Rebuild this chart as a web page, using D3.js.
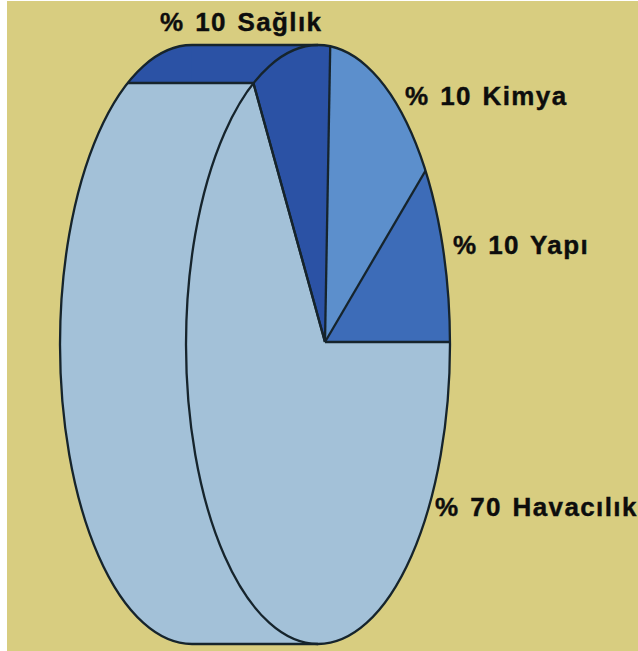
<!DOCTYPE html>
<html><head><meta charset="utf-8">
<script src="https://cdn.jsdelivr.net/npm/d3@7"></script>
<style>html,body{margin:0;padding:0;background:#fff;overflow:hidden}</style>
</head><body><svg id="c" width="638" height="651"></svg>
<script>
const categories = ["Yapı", "Kimya", "Sağlık", "Havacılık"];
const labelValues = [10, 10, 10, 70];
const drawnShares = [10.25, 14.1, 9.55, 66.05];
const colors = ["#3d6cb8", "#5c8fcc", "#2b52a5", "#a3c1d8"];
const labelX = [453, 405, 160, 435];
const labelY = [254, 105, 31, 516];

const svg = d3.select("#c");
const W = 638, H = 651;
const bg = "#d8cd80", ink = "#16242c", light = colors[3], dark = colors[2];
const front = {cx: 318, cy: 344.5, rx: 132, ry: 299.5};
const back = {cx: 192, cy: 344.5, rx: 132, ry: 299.5};
const apex = {x: 325, y: 342};
const bandY = 83;

svg.append("rect").attr("x", 7).attr("y", 1).attr("width", W - 7).attr("height", H - 1).attr("fill", bg);

const defs = svg.append("defs");
defs.append("clipPath").attr("id", "faceClip").append("ellipse")
  .attr("cx", front.cx).attr("cy", front.cy).attr("rx", front.rx).attr("ry", front.ry);
defs.append("clipPath").attr("id", "bandClip").append("rect")
  .attr("x", 0).attr("y", 0).attr("width", W).attr("height", bandY);
defs.append("clipPath").attr("id", "leftClip").append("rect")
  .attr("x", 0).attr("y", 0).attr("width", back.cx).attr("height", H);

const unitArc = d3.arc().innerRadius(0).outerRadius(1);
const leftHalf = unitArc({startAngle: Math.PI, endAngle: 2 * Math.PI});
const nss = s => s.attr("vector-effect", "non-scaling-stroke");

function bodyShape(g, fill) {
  g.append("path").attr("d", leftHalf).attr("fill", fill)
    .attr("transform", `translate(${back.cx},${back.cy}) scale(${back.rx},${back.ry})`);
  g.append("rect").attr("x", back.cx - 0.5).attr("y", back.cy - back.ry)
    .attr("width", front.cx - back.cx + 0.5).attr("height", 2 * back.ry).attr("fill", fill);
}
bodyShape(svg.append("g"), light);
bodyShape(svg.append("g").attr("clip-path", "url(#bandClip)"), dark);

// front face wedges
const pie = d3.pie().sort(null).startAngle(Math.PI / 2).endAngle(Math.PI / 2 - 2 * Math.PI);
const arcs = pie(drawnShares);
const wedgeArc = d3.arc().innerRadius(0).outerRadius(1.5);
const face = svg.append("g").attr("clip-path", "url(#faceClip)");
const wedges = face.append("g").attr("transform", `translate(${apex.x},${apex.y}) scale(${front.rx},${front.ry})`);
wedges.selectAll("path").data(arcs).join("path")
  .attr("d", d => wedgeArc({startAngle: Math.min(d.startAngle, d.endAngle), endAngle: Math.max(d.startAngle, d.endAngle)}))
  .attr("fill", (d, i) => colors[i]);
wedges.selectAll("line").data(arcs).join("line")
  .attr("x1", 0).attr("y1", 0)
  .attr("x2", d => 1.5 * Math.sin(d.startAngle)).attr("y2", d => -1.5 * Math.cos(d.startAngle))
  .attr("stroke", ink).attr("stroke-width", 2.3).call(nss);
wedges.append("line").attr("x1", 0).attr("y1", 0)
  .attr("x2", 1.5 * Math.sin(arcs[2].endAngle)).attr("y2", -1.5 * Math.cos(arcs[2].endAngle))
  .attr("stroke", ink).attr("stroke-width", 2.3).call(nss);

// outlines
const lineG = svg.append("g").attr("fill", "none").attr("stroke", ink).attr("stroke-width", 2.3);
lineG.append("ellipse").attr("cx", front.cx).attr("cy", front.cy).attr("rx", front.rx).attr("ry", front.ry);
lineG.append("g").attr("clip-path", "url(#leftClip)").append("ellipse")
  .attr("cx", back.cx).attr("cy", back.cy).attr("rx", back.rx).attr("ry", back.ry);
[back.cy - back.ry, back.cy + back.ry].forEach(y =>
  lineG.append("line").attr("x1", back.cx).attr("x2", front.cx).attr("y1", y).attr("y2", y));
const bandLeft = back.cx - back.rx * Math.sqrt(1 - Math.pow((back.cy - bandY) / back.ry, 2));
const bandRight = front.cx - front.rx * Math.sqrt(1 - Math.pow((front.cy - bandY) / front.ry, 2));
lineG.append("line").attr("x1", bandLeft).attr("x2", bandRight).attr("y1", bandY).attr("y2", bandY);

// labels
svg.append("g").selectAll("text").data(categories).join("text")
  .attr("x", (d, i) => labelX[i]).attr("y", (d, i) => labelY[i])
  .attr("font-family", "Liberation Sans, Arial, sans-serif")
  .attr("font-weight", 700).attr("font-size", 26).attr("fill", "#0d0d0d")
  .attr("stroke", "#0d0d0d").attr("stroke-width", 0.4)
  .attr("letter-spacing", 1.4).attr("word-spacing", 2)
  .text((d, i) => `% ${labelValues[i]} ${d}`);
</script></body></html>
